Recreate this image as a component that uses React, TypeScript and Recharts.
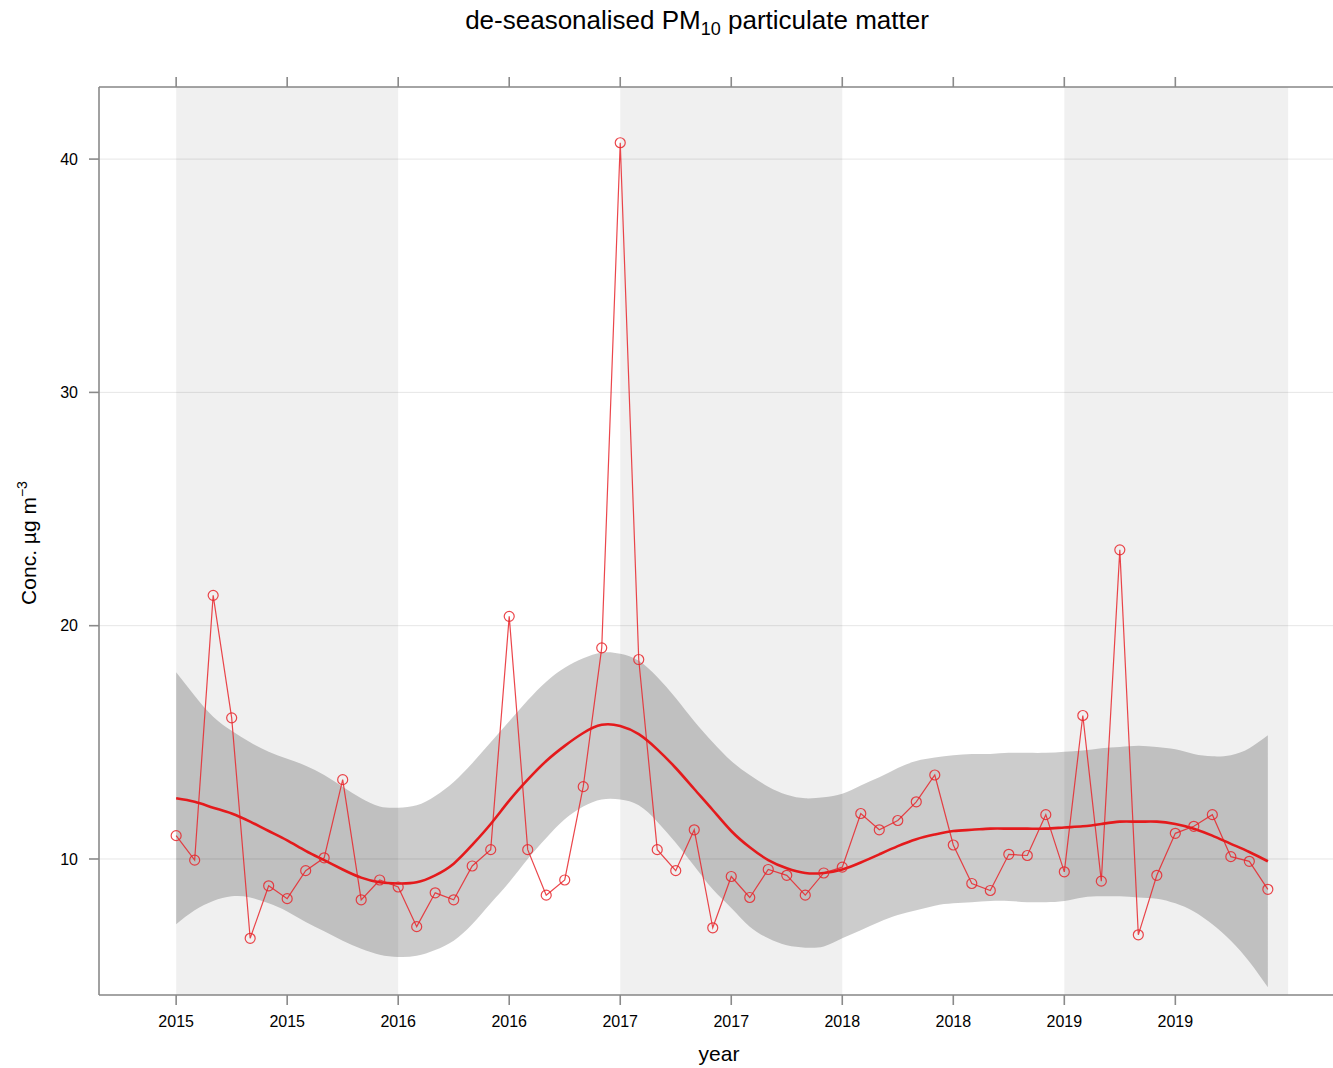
import React from "react";
import { Area, CartesianGrid, ComposedChart, Line, ReferenceArea, XAxis, YAxis } from "recharts";

// monthly de-seasonalised values, Jan 2015 .. Dec 2019
const monthIndex = Array.from({ length: 60 }, (_, i) => i);

const pm10 = [
  11.0, 9.95, 21.3, 16.05, 6.6, 8.85, 8.3, 9.5, 10.05, 13.4, 8.25, 9.1,
  8.8, 7.1, 8.55, 8.25, 9.7, 10.4, 20.4, 10.4, 8.45, 9.1, 13.1, 19.05,
  40.7, 18.55, 10.4, 9.5, 11.25, 7.05, 9.25, 8.35, 9.55, 9.3, 8.45, 9.4,
  9.65, 11.95, 11.25, 11.65, 12.45, 13.6, 10.6, 8.95, 8.65, 10.2, 10.15, 11.9,
  9.45, 16.15, 9.05, 23.25, 6.75, 9.3, 11.1, 11.4, 11.9, 10.1, 9.9, 8.7,
];

const trend = [
  12.6, 12.45, 12.2, 11.95, 11.6, 11.2, 10.8, 10.35, 9.95, 9.55, 9.2, 9.0,
  8.95, 9.0, 9.3, 9.8, 10.6, 11.5, 12.5, 13.4, 14.2, 14.85, 15.4, 15.75,
  15.7, 15.35, 14.7, 13.9, 13.0, 12.1, 11.2, 10.5, 9.95, 9.6, 9.4, 9.4,
  9.55, 9.85, 10.2, 10.55, 10.85, 11.05, 11.2, 11.25, 11.3, 11.3, 11.3, 11.3,
  11.35, 11.4, 11.5, 11.6, 11.6, 11.6, 11.5, 11.3, 11.0, 10.65, 10.3, 9.9,
];

const lower = [
  7.2, 7.8, 8.2, 8.4, 8.35, 8.1, 7.75, 7.3, 6.9, 6.5, 6.15, 5.9,
  5.8, 5.85, 6.1, 6.5, 7.2, 8.1, 9.0, 10.0, 10.9, 11.7, 12.25, 12.55,
  12.55, 12.3, 11.6, 10.7, 9.7, 8.7, 7.9, 7.1, 6.6, 6.3, 6.2, 6.25,
  6.6, 6.95, 7.3, 7.6, 7.8, 8.0, 8.1, 8.15, 8.2, 8.2, 8.15, 8.15,
  8.2, 8.35, 8.4, 8.4, 8.35, 8.3, 8.1, 7.75, 7.2, 6.5, 5.6, 4.5,
];

const upper = [
  18.0, 17.0, 16.1, 15.5, 15.0, 14.6, 14.3, 14.0, 13.6, 13.1, 12.6, 12.25,
  12.2, 12.3, 12.7, 13.3, 14.1, 15.0, 15.9, 16.8, 17.6, 18.2, 18.6, 18.85,
  18.8, 18.5, 17.8, 16.9, 15.9, 15.0, 14.2, 13.6, 13.1, 12.75, 12.6, 12.65,
  12.8, 13.15, 13.5, 13.9, 14.2, 14.35, 14.45, 14.5, 14.5, 14.55, 14.55, 14.55,
  14.6, 14.65, 14.75, 14.8, 14.85, 14.8, 14.7, 14.5, 14.4, 14.45, 14.75, 15.3,
];

const xTicks = [0, 6, 12, 18, 24, 30, 36, 42, 48, 54];
const xTickLabels = ["2015", "2015", "2016", "2016", "2017", "2017", "2018", "2018", "2019", "2019"];
const yTicks = [10, 20, 30, 40];
// shaded alternate years, in month index
const yearBands = [
  [0, 12],
  [24, 36],
  [48, 60.1],
];

const data = monthIndex.map((i) => ({
  i,
  value: pm10[i],
  smooth: trend[i],
  band: [lower[i], upper[i]],
}));

const FONT = '"Liberation Sans", Arial, Helvetica, sans-serif';
const AXIS = "#8a8a8a";

function App() {
  const labelFor = (v: number) => {
    const k = xTicks.indexOf(v);
    return k >= 0 ? xTickLabels[k] : "";
  };

  return (
    <div style={{ position: "absolute", left: 0, top: 0, width: 1333, height: 1068, overflow: "hidden", background: "#fff" }}>
      <ComposedChart
        width={1345}
        height={1068}
        data={data}
        margin={{ top: 0, right: 0, bottom: 0, left: 0 }}
        style={{ fontFamily: FONT }}
      >
        {yearBands.map(([a, b]) => (
          <ReferenceArea key={a} x1={a} x2={b} fill="#000" fillOpacity={0.059} stroke="none" ifOverflow="hidden" />
        ))}
        <CartesianGrid vertical={false} stroke="#e6e6e6" strokeWidth={1} />
        <XAxis
          dataKey="i"
          type="number"
          domain={[-4.17, 63.17]}
          allowDataOverflow
          ticks={xTicks}
          tickFormatter={labelFor}
          height={73}
          tickSize={10}
          tickMargin={11}
          interval={0}
          stroke={AXIS}
          strokeWidth={1.6}
          tick={{ fill: "#000", fontSize: 16 }}
        />
        <XAxis
          xAxisId="top"
          orientation="top"
          dataKey="i"
          type="number"
          domain={[-4.17, 63.17]}
          allowDataOverflow
          ticks={xTicks}
          tickFormatter={() => ""}
          height={87}
          tickSize={10}
          interval={0}
          stroke={AXIS}
          strokeWidth={1.6}
        />
        <YAxis
          type="number"
          domain={[4.17, 43.09]}
          allowDataOverflow
          ticks={yTicks}
          width={99}
          tickSize={10}
          tickMargin={11}
          stroke={AXIS}
          strokeWidth={1.6}
          tick={{ fill: "#000", fontSize: 16 }}
        />
        <Area
          dataKey="band"
          type="natural"
          fill="#000"
          fillOpacity={0.2}
          stroke="none"
          isAnimationActive={false}
          activeDot={false}
        />
        <Line
          dataKey="value"
          type="linear"
          stroke="#e8262b"
          strokeOpacity={0.85}
          strokeWidth={1.2}
          dot={{ r: 5, stroke: "#e8262b", strokeWidth: 1.2, fill: "none" }}
          isAnimationActive={false}
        />
        <Line
          dataKey="smooth"
          type="natural"
          stroke="#e41a1c"
          strokeWidth={2.6}
          dot={false}
          isAnimationActive={false}
        />
      </ComposedChart>
      <svg
        width={1333}
        height={1068}
        style={{ position: "absolute", left: 0, top: 0, pointerEvents: "none", fontFamily: FONT }}
      >
        <text x={697} y={29} textAnchor="middle" fontSize={26} fill="#000">
          de-seasonalised PM
          <tspan dy={6} fontSize={18}>10</tspan>
          <tspan dy={-6}> particulate matter</tspan>
        </text>
        <text x={719} y={1061} textAnchor="middle" fontSize={21} fill="#000">
          year
        </text>
        <text x={36} y={543} textAnchor="middle" fontSize={21} fill="#000" transform="rotate(-90 36 543)">
          Conc. µg m
          <tspan dy={-9} fontSize={14}>−3</tspan>
        </text>
      </svg>
    </div>
  );
}

export default App;
